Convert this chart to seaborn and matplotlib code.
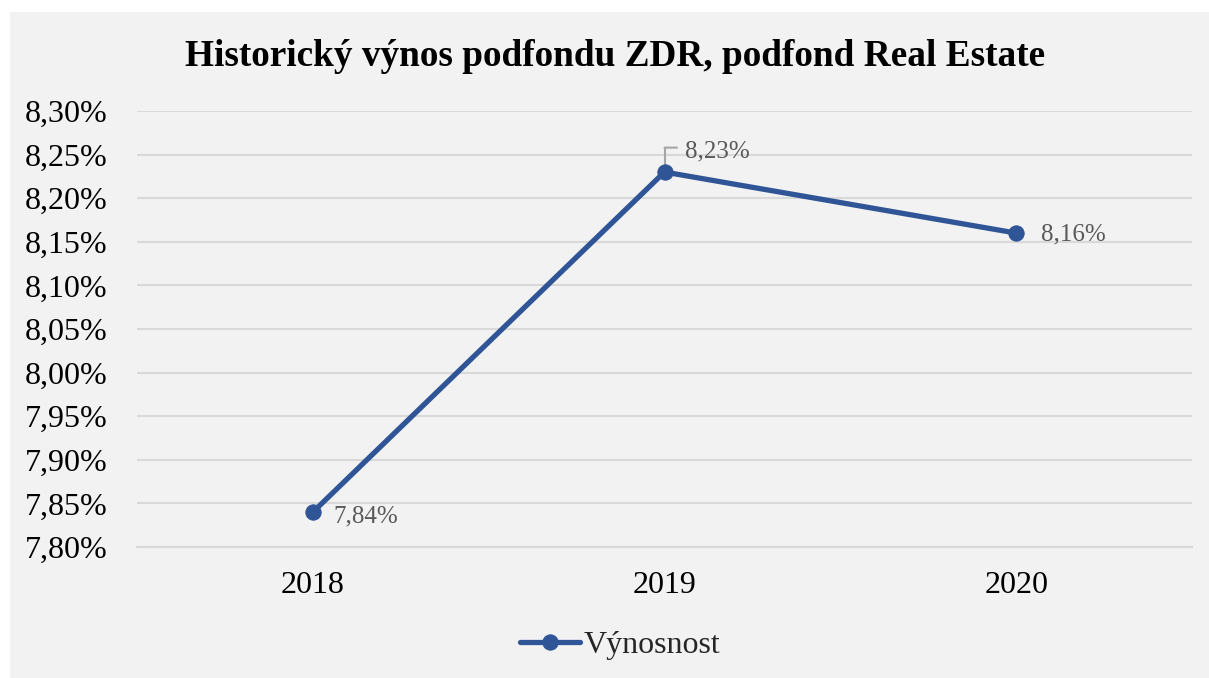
import matplotlib
matplotlib.use('Agg')
import matplotlib.pyplot as plt
from matplotlib.patches import Rectangle
from matplotlib.ticker import FuncFormatter, FixedLocator
import seaborn as sns
import pandas as pd

# data
years = ['2018', '2019', '2020']
vynosnost = [7.84, 8.23, 8.16]
y_ticks = [7.80, 7.85, 7.90, 7.95, 8.00, 8.05, 8.10, 8.15, 8.20, 8.25, 8.30]

df = pd.DataFrame({'Rok': years, 'Výnosnost': vynosnost})

sns.set_style('white')
plt.rcParams['font.family'] = ['Liberation Serif', 'DejaVu Serif']

blue = '#2F5597'
grey_bg = '#F2F2F2'
label_col = '#595959'

fig = plt.figure(figsize=(12.09, 6.78), dpi=100)
fig.patch.set_facecolor('white')
# grey chart area (white margin only on left and top)
fig.patches.append(Rectangle((10/1209, 0), 1 - 10/1209, 1 - 12/678, transform=fig.transFigure,
                             facecolor=grey_bg, edgecolor='none', zorder=-10))

ax = fig.add_axes([137/1209, 1 - 547/678, (1192 - 137)/1209, (547 - 111)/678])
ax.set_facecolor('none')

sns.lineplot(data=df, x='Rok', y='Výnosnost', ax=ax, color=blue, linewidth=3.8,
             marker='o', markersize=11, markeredgecolor=blue, label='Výnosnost',
             legend=False, zorder=5)

ax.set_xlim(-0.5, 2.5)
ax.set_ylim(7.80, 8.30)
ax.set_yticks(y_ticks)
ax.yaxis.set_major_formatter(FuncFormatter(lambda v, p: '{:.2f}%'.format(v).replace('.', ',')))
ax.grid(axis='y', color='#D9D9D9', linewidth=1.5)
ax.set_axisbelow(True)
for s in ['top', 'right', 'left']:
    ax.spines[s].set_visible(False)
ax.spines['bottom'].set_color('#D9D9D9')
ax.spines['bottom'].set_linewidth(1.5)

ax.tick_params(axis='y', length=0, labelsize=23, pad=21, colors='black')
ax.tick_params(axis='x', which='major', length=0, labelsize=23, pad=17, colors='black')
ax.xaxis.set_minor_locator(FixedLocator([-0.5, 0.5, 1.5, 2.5]))
ax.tick_params(axis='x', which='minor', length=8, width=1.5, color='#D9D9D9')
ax.set_xlabel('')
ax.set_ylabel('')

# data labels
fmt = lambda v: '{:.2f}%'.format(v).replace('.', ',')
ax.annotate(fmt(vynosnost[0]), (0, vynosnost[0]), xytext=(15, -3), textcoords='offset points',
            ha='left', va='center', fontsize=18, color=label_col)
ax.annotate(fmt(vynosnost[1]), (1, vynosnost[1]), xytext=(15, 15), textcoords='offset points',
            ha='left', va='center', fontsize=18, color=label_col)
ax.plot([1, 1], [vynosnost[1], 8.258], color='#A6A6A6', linewidth=1.5, zorder=4)
ax.annotate('', (1, 8.258), xytext=(9, 0), textcoords='offset points',
            arrowprops=dict(arrowstyle='-', color='#A6A6A6', lw=1.5, shrinkA=0, shrinkB=0))
ax.annotate(fmt(vynosnost[2]), (2, vynosnost[2]), xytext=(18, -1), textcoords='offset points',
            ha='left', va='center', fontsize=18, color=label_col)

fig.text(615/1209, 1 - 57/678, 'Historický výnos podfondu ZDR, podfond Real Estate',
         ha='center', va='center', fontsize=26.8, fontweight='bold', color='black')

handles, labels = ax.get_legend_handles_labels()
fig.legend(handles, labels, loc='center', bbox_to_anchor=(620/1209, 1 - 645/678), frameon=False,
           fontsize=23, handlelength=1.9, handletextpad=0.1)

fig.savefig('out.png', dpi=100, facecolor=fig.get_facecolor())
